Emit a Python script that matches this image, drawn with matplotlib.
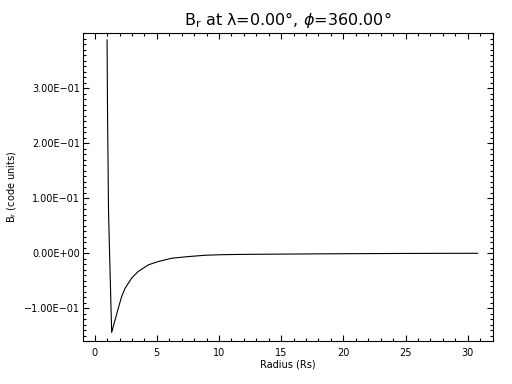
import matplotlib
matplotlib.use('Agg')
import matplotlib.pyplot as plt
from matplotlib.ticker import MultipleLocator

# radius (Rs) and B_r (code units)
radius = [1.00, 1.04, 1.12, 1.23, 1.37, 1.90, 2.17, 2.44, 2.98, 3.51,
          4.32, 5.12, 6.20, 7.54, 8.88, 10.35, 12.0, 15.0, 20.0, 25.0, 30.8]
br = [0.388, 0.248, 0.073, -0.024, -0.144, -0.100, -0.079, -0.064, -0.045, -0.033,
      -0.021, -0.015, -0.009, -0.006, -0.0036, -0.0025, -0.0020, -0.0015, -0.0008, -0.0003, 0.0]

xticks = [0, 5, 10, 15, 20, 25, 30]
yticks = [-0.1, 0.0, 0.1, 0.2, 0.3]
ytick_labels = ['\u22121.00E\u221201', '0.00E+00', '1.00E\u221201', '2.00E\u221201', '3.00E\u221201']

fig = plt.figure(figsize=(5.12, 3.84), dpi=100)
ax = fig.add_axes([0.162, 0.112, 0.801, 0.802])

ax.plot(radius, br, color='black', lw=0.8)

ax.set_xlim(-0.94, 32.04)
ax.set_ylim(-0.1595, 0.4005)
ax.set_xticks(xticks)
ax.set_xticklabels([str(t) for t in xticks])
ax.set_yticks(yticks)
ax.set_yticklabels(ytick_labels)
ax.xaxis.set_minor_locator(MultipleLocator(1))
ax.yaxis.set_minor_locator(MultipleLocator(0.01))

ax.tick_params(which='both', direction='in', top=True, right=True, labelsize=7, width=0.8)
ax.tick_params(axis='x', which='major', length=4, pad=5)
ax.tick_params(axis='y', which='major', length=4, pad=2)
ax.tick_params(which='minor', length=2)
for s in ax.spines.values():
    s.set_linewidth(0.8)

ax.set_xlabel('Radius (Rs)', fontsize=7, labelpad=1)
ax.set_ylabel('$\\mathregular{B_r}$ (code units)', fontsize=7)
ax.yaxis.set_label_coords(-0.155, 0.5)
ax.set_title('$\\mathregular{B_r}$ at \u03bb=0.00\u00b0, $\\phi$=360.00\u00b0', fontsize=11.5, pad=6)

fig.savefig('out.png', dpi=100)
